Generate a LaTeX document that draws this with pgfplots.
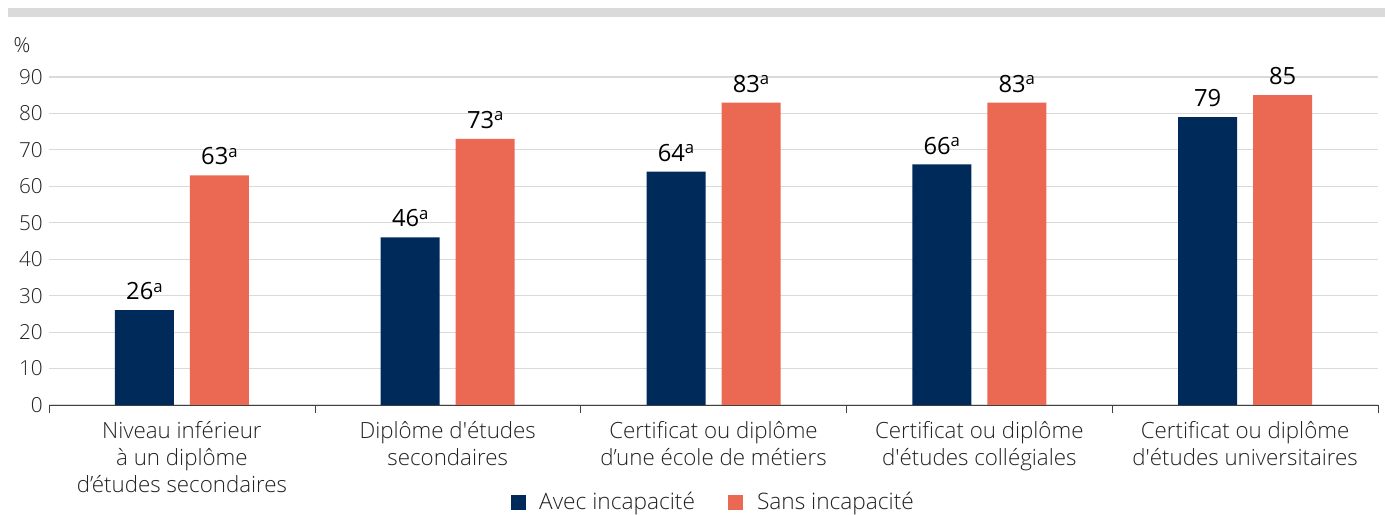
\documentclass[border=0pt]{standalone}
\usepackage{fontspec}
\setmainfont{Open Sans}[UprightFont=* Light]
\newfontfamily\regfont{Open Sans}
\usepackage{pgfplots}
\pgfplotsset{compat=1.18}
\definecolor{navy}{HTML}{002A5A}
\definecolor{coral}{HTML}{EB6853}
\definecolor{txt}{HTML}{222222}
\definecolor{gridc}{HTML}{DADADA}
\newcommand{\sa}{\raisebox{4.4pt}{\fontsize{9.5}{10}\selectfont a}}
\begin{document}
\begin{tikzpicture}
\begin{axis}[
    width=26.58cm, height=6.56cm,
    scale only axis,
    ybar, bar width=1.18cm,
    xmin=-0.5, xmax=4.5,
    ymin=0, ymax=90,
    enlargelimits=false,
    clip=false,
    axis x line*=bottom,
    axis y line*=left,
    y axis line style={draw=none},
    x axis line style={draw=black!75},
    ytick={0,10,...,90},
    ytick style={draw=none},
    ymajorgrids,
    grid style={gridc, line width=0.6pt},
    xtick={0,1,2,3,4},
    xticklabels={{Niveau inférieur\\à un diplôme\\d’études secondaires},
                 {Diplôme d\textquotesingle études\\secondaires},
                 {Certificat ou diplôme\\d’une école de métiers},
                 {Certificat ou diplôme\\d\textquotesingle études collégiales},
                 {Certificat ou diplôme\\d\textquotesingle études universitaires}},
    xticklabel style={align=center, font=\fontsize{12.7}{15.5}\selectfont, text=txt, yshift=-0.05cm},
    major x tick style={draw=none},
    extra x ticks={-0.5,0.5,1.5,2.5,3.5,4.5},
    extra x tick labels={},
    extra x tick style={tick align=outside, major tick length=0.17cm, major x tick style={draw=black!75}},
    yticklabel style={font=\fontsize{11.8}{13}\selectfont, text=txt},
    /pgf/number format/assume math mode=true,
    nodes near coords,
    point meta=explicit symbolic,
    nodes near coords style={font=\regfont\fontsize{13.5}{15}\selectfont, text=black, yshift=0.08cm},
    legend style={at={(0.5004,-0.296)}, anchor=center, draw=none,
        legend columns=2, font=\fontsize{12.9}{14}\selectfont, text=txt,
        /tikz/every even column/.append style={column sep=0.6cm}},
    legend image code/.code={\fill[#1] (0cm,-0.15cm) rectangle (0.3cm,0.15cm);},
]
\addplot[fill=navy, draw=none, bar shift=-0.75cm] coordinates {
    (0,26) [26\sa]
    (1,46) [46\sa]
    (2,64) [64\sa]
    (3,66) [66\sa]
    (4,79) [79]
};
\addlegendentry{\hspace{0.2cm}Avec incapacité}
\addplot[fill=coral, draw=none, bar shift=0.75cm] coordinates {
    (0,63) [63\sa]
    (1,73) [73\sa]
    (2,83) [83\sa]
    (3,83) [83\sa]
    (4,85) [85]
};
\addlegendentry{\hspace{0.2cm}Sans incapacité}
\fill[gridc] (rel axis cs:-0.0309,1.183) rectangle (rel axis cs:1.0053,1.2104);
\node[font=\fontsize{11.8}{13}\selectfont, text=txt] at (rel axis cs:-0.0203,1.098) {\%};
\coordinate (bbl) at (rel axis cs:-0.0369,-0.3354);
\coordinate (bbr) at (rel axis cs:1.0053,1.2348);
\end{axis}
\pgfresetboundingbox
\path (bbl) rectangle (bbr);
\end{tikzpicture}
\end{document}
